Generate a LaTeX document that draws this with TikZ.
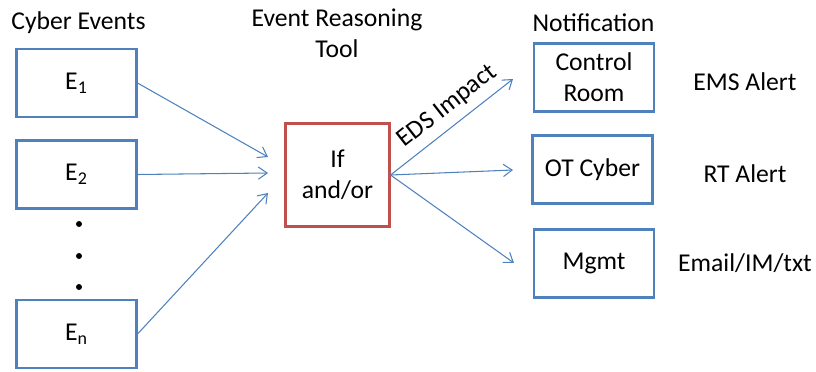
\documentclass[tikz,border=0pt]{standalone}
\usepackage{fontspec}
\setmainfont{Carlito}
\usetikzlibrary{arrows.meta,positioning}
\definecolor{boxblue}{RGB}{79,129,189}
\definecolor{boxred}{RGB}{192,80,77}

\begin{document}
\begin{tikzpicture}[x=0.02cm,y=-0.02cm,>={Straight Barb[length=5pt,width=7pt]},font=\fontsize{14.6}{17.5}\selectfont]
	\tikzstyle{block} = [draw=boxblue, line width=1.2pt, rectangle, minimum width=2.4cm, minimum height=1.36cm, align=center, inner sep=0pt]
	\tikzstyle{logic} = [block, draw=boxred, minimum width=2.08cm, minimum height=2.06cm]
	\tikzstyle{link} = [->, draw=boxblue, line width=0.6pt]
	
	\useasboundingbox (0,0) rectangle (816,372);
	
	\node (events) at (78.5,23) {Cyber Events};
	\node [align=center] (tool) at (337,33) {Event Reasoning\\Tool};
	\node (notif) at (593.5,23) {Notification};
	
	\node [block] (e1) at (76.5,83) {E\textsubscript{1}};
	\node [block] (e2) at (76.5,174.5) {E\textsubscript{2}};
	\node [block] (en) at (76.5,334) {E\textsubscript{n}};
	\foreach \y in {224,256,287}
		\fill (79,\y) circle (1.7pt);
	
	\node [logic] (rule) at (337.5,175) {If\\and/or};
	
	\node [block] (room) at (594,77.5) {Control\\Room};
	\node [block] (ot) at (592.5,169.5) {OT Cyber};
	\node [block] (mgmt) at (594,263.5) {Mgmt};
	
	\node (ems) at (745,82) {EMS Alert};
	\node (rt) at (745,173.5) {RT Alert};
	\node (mail) at (745,263.5) {Email/IM/txt};
	
	\coordinate (in1) at (268,157);
	\coordinate (in2) at (268,173);
	\coordinate (inn) at (268,193);
	\coordinate (out1) at (513,79);
	\coordinate (out2) at (513,170);
	\coordinate (out3) at (514,263);
	
	\draw [link] (e1.east) -- (in1);
	\draw [link] (e2.east) -- (in2);
	\draw [link] (en.east) -- (inn);
	\draw [link] (rule.east) --node[sloped, above, pos=0.56, inner sep=4.5pt, text=black]{EDS Impact} (out1);
	\draw [link] (rule.east) -- (out2);
	\draw [link] (rule.east) -- (out3);
	
\end{tikzpicture}
\end{document}
